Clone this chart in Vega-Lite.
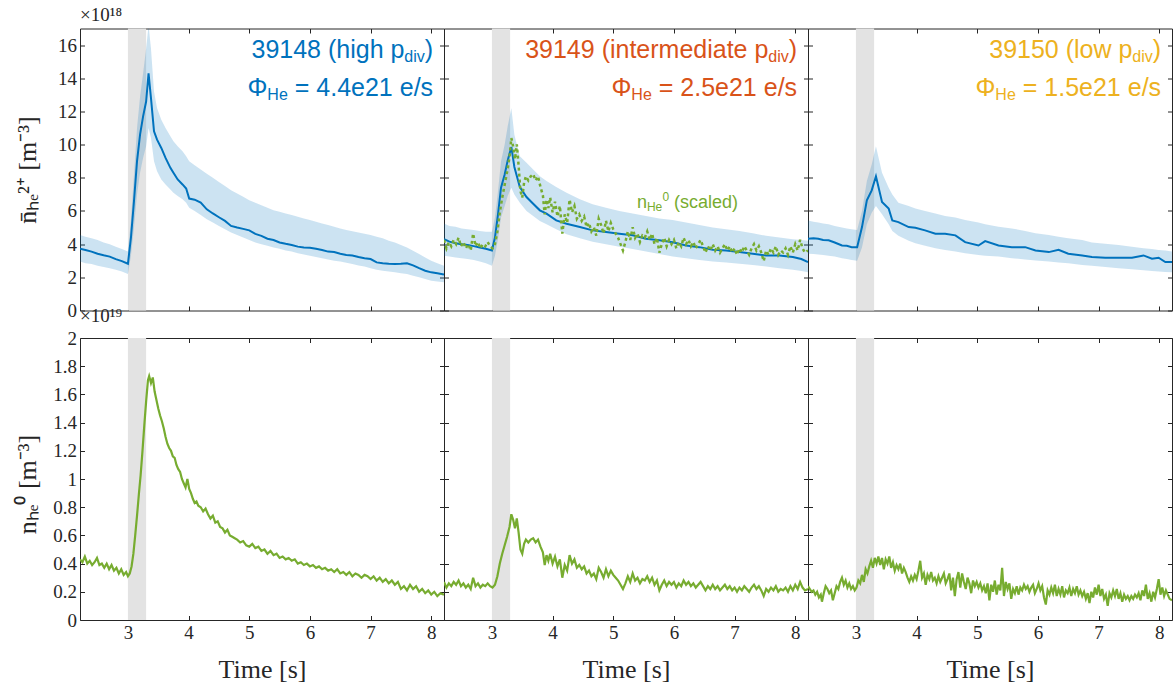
{
  "$schema": "https://vega.github.io/schema/vega-lite/v6.json",
  "background": "white",
  "padding": {"left": 14, "top": 5.5, "right": 0, "bottom": 0},
  "columns": 3,
  "spacing": {"row": 27.5, "column": 0},
  "bounds": "flush",
  "datasets": {
    "pulse": [{"start": 3.0, "end": 3.3}],
    "top": [
      {"shot": 39148, "t": 2.21, "m": 3.72, "lo": 2.95, "hi": 4.55},
      {"shot": 39148, "t": 2.30, "m": 3.65, "lo": 2.85, "hi": 4.45},
      {"shot": 39148, "t": 2.40, "m": 3.55, "lo": 2.80, "hi": 4.35},
      {"shot": 39148, "t": 2.50, "m": 3.42, "lo": 2.70, "hi": 4.25},
      {"shot": 39148, "t": 2.60, "m": 3.33, "lo": 2.62, "hi": 4.10},
      {"shot": 39148, "t": 2.70, "m": 3.25, "lo": 2.55, "hi": 4.00},
      {"shot": 39148, "t": 2.80, "m": 3.10, "lo": 2.45, "hi": 3.85},
      {"shot": 39148, "t": 2.90, "m": 2.98, "lo": 2.35, "hi": 3.70},
      {"shot": 39148, "t": 3.00, "m": 2.82, "lo": 2.20, "hi": 3.55},
      {"shot": 39148, "t": 3.05, "m": 4.40, "lo": 3.30, "hi": 5.50},
      {"shot": 39148, "t": 3.10, "m": 6.60, "lo": 5.00, "hi": 8.20},
      {"shot": 39148, "t": 3.15, "m": 9.00, "lo": 7.00, "hi": 11.00},
      {"shot": 39148, "t": 3.20, "m": 10.60, "lo": 8.30, "hi": 12.90},
      {"shot": 39148, "t": 3.25, "m": 11.70, "lo": 9.20, "hi": 14.30},
      {"shot": 39148, "t": 3.30, "m": 12.60, "lo": 9.90, "hi": 15.80},
      {"shot": 39148, "t": 3.34, "m": 14.30, "lo": 11.00, "hi": 17.20},
      {"shot": 39148, "t": 3.38, "m": 12.80, "lo": 10.40, "hi": 15.80},
      {"shot": 39148, "t": 3.43, "m": 10.80, "lo": 9.00, "hi": 13.20},
      {"shot": 39148, "t": 3.48, "m": 10.30, "lo": 8.40, "hi": 12.20},
      {"shot": 39148, "t": 3.55, "m": 9.80, "lo": 7.90, "hi": 11.50},
      {"shot": 39148, "t": 3.62, "m": 9.20, "lo": 7.60, "hi": 11.00},
      {"shot": 39148, "t": 3.70, "m": 8.60, "lo": 7.30, "hi": 10.50},
      {"shot": 39148, "t": 3.75, "m": 8.30, "lo": 7.10, "hi": 10.20},
      {"shot": 39148, "t": 3.82, "m": 7.90, "lo": 6.90, "hi": 9.90},
      {"shot": 39148, "t": 3.90, "m": 7.60, "lo": 6.70, "hi": 9.60},
      {"shot": 39148, "t": 3.96, "m": 7.35, "lo": 6.50, "hi": 9.30},
      {"shot": 39148, "t": 4.01, "m": 6.75, "lo": 6.20, "hi": 9.00},
      {"shot": 39148, "t": 4.10, "m": 6.68, "lo": 6.00, "hi": 8.75},
      {"shot": 39148, "t": 4.20, "m": 6.50, "lo": 5.75, "hi": 8.50},
      {"shot": 39148, "t": 4.30, "m": 6.10, "lo": 5.50, "hi": 8.25},
      {"shot": 39148, "t": 4.40, "m": 5.85, "lo": 5.30, "hi": 8.00},
      {"shot": 39148, "t": 4.50, "m": 5.62, "lo": 5.10, "hi": 7.75},
      {"shot": 39148, "t": 4.60, "m": 5.40, "lo": 4.90, "hi": 7.50},
      {"shot": 39148, "t": 4.70, "m": 5.10, "lo": 4.70, "hi": 7.25},
      {"shot": 39148, "t": 4.80, "m": 5.00, "lo": 4.55, "hi": 7.05},
      {"shot": 39148, "t": 4.90, "m": 4.92, "lo": 4.40, "hi": 6.85},
      {"shot": 39148, "t": 5.00, "m": 4.83, "lo": 4.25, "hi": 6.65},
      {"shot": 39148, "t": 5.10, "m": 4.62, "lo": 4.10, "hi": 6.50},
      {"shot": 39148, "t": 5.20, "m": 4.50, "lo": 4.00, "hi": 6.35},
      {"shot": 39148, "t": 5.30, "m": 4.33, "lo": 3.90, "hi": 6.20},
      {"shot": 39148, "t": 5.40, "m": 4.25, "lo": 3.80, "hi": 6.05},
      {"shot": 39148, "t": 5.50, "m": 4.10, "lo": 3.72, "hi": 5.95},
      {"shot": 39148, "t": 5.60, "m": 4.02, "lo": 3.62, "hi": 5.85},
      {"shot": 39148, "t": 5.70, "m": 3.95, "lo": 3.55, "hi": 5.75},
      {"shot": 39148, "t": 5.80, "m": 3.85, "lo": 3.45, "hi": 5.65},
      {"shot": 39148, "t": 5.90, "m": 3.80, "lo": 3.38, "hi": 5.55},
      {"shot": 39148, "t": 6.00, "m": 3.78, "lo": 3.30, "hi": 5.45},
      {"shot": 39148, "t": 6.10, "m": 3.72, "lo": 3.22, "hi": 5.35},
      {"shot": 39148, "t": 6.20, "m": 3.65, "lo": 3.15, "hi": 5.25},
      {"shot": 39148, "t": 6.30, "m": 3.55, "lo": 3.08, "hi": 5.15},
      {"shot": 39148, "t": 6.40, "m": 3.52, "lo": 3.00, "hi": 5.05},
      {"shot": 39148, "t": 6.50, "m": 3.42, "lo": 2.95, "hi": 4.95},
      {"shot": 39148, "t": 6.60, "m": 3.35, "lo": 2.88, "hi": 4.85},
      {"shot": 39148, "t": 6.70, "m": 3.32, "lo": 2.80, "hi": 4.78},
      {"shot": 39148, "t": 6.80, "m": 3.22, "lo": 2.72, "hi": 4.70},
      {"shot": 39148, "t": 6.90, "m": 3.15, "lo": 2.65, "hi": 4.62},
      {"shot": 39148, "t": 7.00, "m": 3.10, "lo": 2.55, "hi": 4.55},
      {"shot": 39148, "t": 7.10, "m": 2.90, "lo": 2.45, "hi": 4.45},
      {"shot": 39148, "t": 7.20, "m": 2.85, "lo": 2.40, "hi": 4.35},
      {"shot": 39148, "t": 7.30, "m": 2.82, "lo": 2.35, "hi": 4.20},
      {"shot": 39148, "t": 7.40, "m": 2.80, "lo": 2.30, "hi": 4.10},
      {"shot": 39148, "t": 7.50, "m": 2.82, "lo": 2.25, "hi": 3.95},
      {"shot": 39148, "t": 7.60, "m": 2.85, "lo": 2.20, "hi": 3.80},
      {"shot": 39148, "t": 7.70, "m": 2.72, "lo": 2.10, "hi": 3.60},
      {"shot": 39148, "t": 7.80, "m": 2.55, "lo": 2.00, "hi": 3.40},
      {"shot": 39148, "t": 7.90, "m": 2.40, "lo": 1.90, "hi": 3.20},
      {"shot": 39148, "t": 8.00, "m": 2.30, "lo": 1.80, "hi": 3.00},
      {"shot": 39148, "t": 8.10, "m": 2.25, "lo": 1.75, "hi": 2.85},
      {"shot": 39148, "t": 8.21, "m": 2.17, "lo": 1.70, "hi": 2.70},

      {"shot": 39149, "t": 2.21, "m": 4.30, "lo": 3.30, "hi": 5.25},
      {"shot": 39149, "t": 2.30, "m": 4.15, "lo": 3.25, "hi": 5.10},
      {"shot": 39149, "t": 2.40, "m": 4.05, "lo": 3.20, "hi": 5.05},
      {"shot": 39149, "t": 2.50, "m": 4.00, "lo": 3.15, "hi": 4.95},
      {"shot": 39149, "t": 2.60, "m": 3.95, "lo": 3.10, "hi": 4.90},
      {"shot": 39149, "t": 2.70, "m": 3.88, "lo": 3.05, "hi": 4.85},
      {"shot": 39149, "t": 2.80, "m": 3.80, "lo": 2.95, "hi": 4.80},
      {"shot": 39149, "t": 2.90, "m": 3.72, "lo": 2.85, "hi": 4.75},
      {"shot": 39149, "t": 3.00, "m": 3.62, "lo": 2.70, "hi": 4.75},
      {"shot": 39149, "t": 3.05, "m": 4.40, "lo": 3.30, "hi": 5.60},
      {"shot": 39149, "t": 3.10, "m": 5.80, "lo": 4.30, "hi": 7.20},
      {"shot": 39149, "t": 3.15, "m": 7.40, "lo": 5.60, "hi": 9.00},
      {"shot": 39149, "t": 3.21, "m": 8.20, "lo": 6.30, "hi": 10.00},
      {"shot": 39149, "t": 3.26, "m": 9.05, "lo": 6.90, "hi": 11.10},
      {"shot": 39149, "t": 3.32, "m": 9.86, "lo": 7.40, "hi": 12.20},
      {"shot": 39149, "t": 3.37, "m": 8.65, "lo": 7.00, "hi": 10.60},
      {"shot": 39149, "t": 3.46, "m": 7.44, "lo": 6.50, "hi": 9.30},
      {"shot": 39149, "t": 3.57, "m": 6.84, "lo": 6.00, "hi": 8.90},
      {"shot": 39149, "t": 3.68, "m": 6.44, "lo": 5.70, "hi": 8.50},
      {"shot": 39149, "t": 3.79, "m": 6.04, "lo": 5.40, "hi": 8.10},
      {"shot": 39149, "t": 3.90, "m": 5.84, "lo": 5.20, "hi": 7.80},
      {"shot": 39149, "t": 4.06, "m": 5.43, "lo": 4.90, "hi": 7.44},
      {"shot": 39149, "t": 4.23, "m": 5.23, "lo": 4.60, "hi": 7.10},
      {"shot": 39149, "t": 4.45, "m": 5.03, "lo": 4.35, "hi": 6.70},
      {"shot": 39149, "t": 4.66, "m": 4.83, "lo": 4.15, "hi": 6.40},
      {"shot": 39149, "t": 4.88, "m": 4.73, "lo": 4.00, "hi": 6.20},
      {"shot": 39149, "t": 5.10, "m": 4.63, "lo": 3.85, "hi": 6.00},
      {"shot": 39149, "t": 5.32, "m": 4.53, "lo": 3.70, "hi": 5.85},
      {"shot": 39149, "t": 5.54, "m": 4.33, "lo": 3.55, "hi": 5.70},
      {"shot": 39149, "t": 5.76, "m": 4.23, "lo": 3.40, "hi": 5.55},
      {"shot": 39149, "t": 5.98, "m": 4.12, "lo": 3.25, "hi": 5.45},
      {"shot": 39149, "t": 6.20, "m": 3.92, "lo": 3.15, "hi": 5.30},
      {"shot": 39149, "t": 6.42, "m": 3.82, "lo": 3.05, "hi": 5.15},
      {"shot": 39149, "t": 6.64, "m": 3.66, "lo": 2.95, "hi": 5.00},
      {"shot": 39149, "t": 6.86, "m": 3.62, "lo": 2.90, "hi": 4.90},
      {"shot": 39149, "t": 7.08, "m": 3.52, "lo": 2.82, "hi": 4.80},
      {"shot": 39149, "t": 7.30, "m": 3.42, "lo": 2.75, "hi": 4.65},
      {"shot": 39149, "t": 7.52, "m": 3.32, "lo": 2.65, "hi": 4.50},
      {"shot": 39149, "t": 7.74, "m": 3.32, "lo": 2.55, "hi": 4.40},
      {"shot": 39149, "t": 7.96, "m": 3.22, "lo": 2.45, "hi": 4.30},
      {"shot": 39149, "t": 8.10, "m": 3.10, "lo": 2.38, "hi": 4.25},
      {"shot": 39149, "t": 8.21, "m": 2.92, "lo": 2.30, "hi": 4.20},

      {"shot": 39150, "t": 2.21, "m": 4.33, "lo": 3.42, "hi": 5.43},
      {"shot": 39150, "t": 2.30, "m": 4.35, "lo": 3.40, "hi": 5.35},
      {"shot": 39150, "t": 2.38, "m": 4.33, "lo": 3.38, "hi": 5.30},
      {"shot": 39150, "t": 2.46, "m": 4.25, "lo": 3.35, "hi": 5.25},
      {"shot": 39150, "t": 2.55, "m": 4.23, "lo": 3.30, "hi": 5.20},
      {"shot": 39150, "t": 2.65, "m": 4.10, "lo": 3.25, "hi": 5.10},
      {"shot": 39150, "t": 2.77, "m": 3.92, "lo": 3.15, "hi": 5.00},
      {"shot": 39150, "t": 2.85, "m": 3.90, "lo": 3.10, "hi": 4.95},
      {"shot": 39150, "t": 2.93, "m": 3.82, "lo": 3.05, "hi": 4.90},
      {"shot": 39150, "t": 3.02, "m": 3.82, "lo": 3.00, "hi": 4.85},
      {"shot": 39150, "t": 3.10, "m": 5.03, "lo": 3.80, "hi": 6.00},
      {"shot": 39150, "t": 3.18, "m": 6.64, "lo": 5.20, "hi": 7.80},
      {"shot": 39150, "t": 3.26, "m": 7.24, "lo": 5.90, "hi": 8.80},
      {"shot": 39150, "t": 3.33, "m": 8.09, "lo": 6.30, "hi": 9.90},
      {"shot": 39150, "t": 3.43, "m": 6.54, "lo": 5.80, "hi": 8.30},
      {"shot": 39150, "t": 3.54, "m": 6.14, "lo": 5.20, "hi": 7.40},
      {"shot": 39150, "t": 3.60, "m": 5.43, "lo": 4.80, "hi": 7.00},
      {"shot": 39150, "t": 3.70, "m": 5.33, "lo": 4.50, "hi": 6.50},
      {"shot": 39150, "t": 3.87, "m": 5.03, "lo": 4.20, "hi": 6.30},
      {"shot": 39150, "t": 3.98, "m": 4.99, "lo": 4.05, "hi": 6.15},
      {"shot": 39150, "t": 4.14, "m": 4.83, "lo": 3.90, "hi": 6.00},
      {"shot": 39150, "t": 4.31, "m": 4.63, "lo": 3.75, "hi": 5.85},
      {"shot": 39150, "t": 4.47, "m": 4.63, "lo": 3.65, "hi": 5.70},
      {"shot": 39150, "t": 4.64, "m": 4.53, "lo": 3.55, "hi": 5.60},
      {"shot": 39150, "t": 4.80, "m": 4.12, "lo": 3.45, "hi": 5.45},
      {"shot": 39150, "t": 5.02, "m": 3.92, "lo": 3.35, "hi": 5.30},
      {"shot": 39150, "t": 5.13, "m": 4.18, "lo": 3.30, "hi": 5.20},
      {"shot": 39150, "t": 5.35, "m": 3.92, "lo": 3.25, "hi": 5.05},
      {"shot": 39150, "t": 5.57, "m": 3.82, "lo": 3.15, "hi": 4.95},
      {"shot": 39150, "t": 5.79, "m": 3.82, "lo": 3.08, "hi": 4.80},
      {"shot": 39150, "t": 5.96, "m": 3.62, "lo": 3.02, "hi": 4.65},
      {"shot": 39150, "t": 6.18, "m": 3.52, "lo": 2.95, "hi": 4.55},
      {"shot": 39150, "t": 6.34, "m": 3.66, "lo": 2.90, "hi": 4.45},
      {"shot": 39150, "t": 6.50, "m": 3.42, "lo": 2.85, "hi": 4.35},
      {"shot": 39150, "t": 6.73, "m": 3.32, "lo": 2.75, "hi": 4.25},
      {"shot": 39150, "t": 6.89, "m": 3.22, "lo": 2.70, "hi": 4.10},
      {"shot": 39150, "t": 7.11, "m": 3.18, "lo": 2.62, "hi": 4.02},
      {"shot": 39150, "t": 7.33, "m": 3.18, "lo": 2.55, "hi": 3.95},
      {"shot": 39150, "t": 7.55, "m": 3.18, "lo": 2.48, "hi": 3.85},
      {"shot": 39150, "t": 7.74, "m": 3.32, "lo": 2.42, "hi": 3.75},
      {"shot": 39150, "t": 7.88, "m": 3.12, "lo": 2.38, "hi": 3.70},
      {"shot": 39150, "t": 7.99, "m": 3.18, "lo": 2.35, "hi": 3.65},
      {"shot": 39150, "t": 8.10, "m": 2.92, "lo": 2.32, "hi": 3.62},
      {"shot": 39150, "t": 8.21, "m": 2.92, "lo": 2.30, "hi": 3.55}
    ],
    "bot": [
      {"shot": 39148, "t": 2.21, "n": 0.43}, {"shot": 39148, "t": 2.25, "n": 0.41}, {"shot": 39148, "t": 2.29, "n": 0.45}, {"shot": 39148, "t": 2.33, "n": 0.40},
      {"shot": 39148, "t": 2.37, "n": 0.42}, {"shot": 39148, "t": 2.41, "n": 0.39}, {"shot": 39148, "t": 2.45, "n": 0.41}, {"shot": 39148, "t": 2.49, "n": 0.44},
      {"shot": 39148, "t": 2.53, "n": 0.39}, {"shot": 39148, "t": 2.57, "n": 0.40}, {"shot": 39148, "t": 2.61, "n": 0.37}, {"shot": 39148, "t": 2.65, "n": 0.40},
      {"shot": 39148, "t": 2.69, "n": 0.36}, {"shot": 39148, "t": 2.73, "n": 0.39}, {"shot": 39148, "t": 2.77, "n": 0.35}, {"shot": 39148, "t": 2.81, "n": 0.37},
      {"shot": 39148, "t": 2.85, "n": 0.33}, {"shot": 39148, "t": 2.89, "n": 0.36}, {"shot": 39148, "t": 2.93, "n": 0.32}, {"shot": 39148, "t": 2.97, "n": 0.34},
      {"shot": 39148, "t": 3.00, "n": 0.31}, {"shot": 39148, "t": 3.03, "n": 0.33}, {"shot": 39148, "t": 3.06, "n": 0.38}, {"shot": 39148, "t": 3.09, "n": 0.47},
      {"shot": 39148, "t": 3.12, "n": 0.60}, {"shot": 39148, "t": 3.15, "n": 0.74}, {"shot": 39148, "t": 3.18, "n": 0.89}, {"shot": 39148, "t": 3.21, "n": 1.03},
      {"shot": 39148, "t": 3.24, "n": 1.20}, {"shot": 39148, "t": 3.27, "n": 1.38}, {"shot": 39148, "t": 3.30, "n": 1.55}, {"shot": 39148, "t": 3.33, "n": 1.70},
      {"shot": 39148, "t": 3.35, "n": 1.73}, {"shot": 39148, "t": 3.38, "n": 1.68}, {"shot": 39148, "t": 3.41, "n": 1.72}, {"shot": 39148, "t": 3.44, "n": 1.62},
      {"shot": 39148, "t": 3.47, "n": 1.56}, {"shot": 39148, "t": 3.50, "n": 1.50}, {"shot": 39148, "t": 3.53, "n": 1.45}, {"shot": 39148, "t": 3.56, "n": 1.41},
      {"shot": 39148, "t": 3.59, "n": 1.36}, {"shot": 39148, "t": 3.62, "n": 1.30}, {"shot": 39148, "t": 3.65, "n": 1.25}, {"shot": 39148, "t": 3.68, "n": 1.22},
      {"shot": 39148, "t": 3.71, "n": 1.20}, {"shot": 39148, "t": 3.74, "n": 1.16}, {"shot": 39148, "t": 3.77, "n": 1.15}, {"shot": 39148, "t": 3.80, "n": 1.10},
      {"shot": 39148, "t": 3.83, "n": 1.07}, {"shot": 39148, "t": 3.86, "n": 1.05}, {"shot": 39148, "t": 3.89, "n": 1.00}, {"shot": 39148, "t": 3.92, "n": 0.97},
      {"shot": 39148, "t": 3.95, "n": 0.94}, {"shot": 39148, "t": 3.98, "n": 1.00}, {"shot": 39148, "t": 4.01, "n": 0.93}, {"shot": 39148, "t": 4.04, "n": 0.90},
      {"shot": 39148, "t": 4.07, "n": 0.86}, {"shot": 39148, "t": 4.10, "n": 0.83}, {"shot": 39148, "t": 4.13, "n": 0.84}, {"shot": 39148, "t": 4.16, "n": 0.81},
      {"shot": 39148, "t": 4.20, "n": 0.80}, {"shot": 39148, "t": 4.24, "n": 0.77}, {"shot": 39148, "t": 4.28, "n": 0.79}, {"shot": 39148, "t": 4.32, "n": 0.75},
      {"shot": 39148, "t": 4.36, "n": 0.72}, {"shot": 39148, "t": 4.40, "n": 0.74}, {"shot": 39148, "t": 4.44, "n": 0.69}, {"shot": 39148, "t": 4.48, "n": 0.70},
      {"shot": 39148, "t": 4.52, "n": 0.66}, {"shot": 39148, "t": 4.56, "n": 0.65}, {"shot": 39148, "t": 4.60, "n": 0.62}, {"shot": 39148, "t": 4.64, "n": 0.64},
      {"shot": 39148, "t": 4.68, "n": 0.60}, {"shot": 39148, "t": 4.72, "n": 0.59}, {"shot": 39148, "t": 4.76, "n": 0.58}, {"shot": 39148, "t": 4.80, "n": 0.57},
      {"shot": 39148, "t": 4.85, "n": 0.55}, {"shot": 39148, "t": 4.90, "n": 0.56}, {"shot": 39148, "t": 4.95, "n": 0.53}, {"shot": 39148, "t": 5.00, "n": 0.52},
      {"shot": 39148, "t": 5.05, "n": 0.54}, {"shot": 39148, "t": 5.10, "n": 0.51}, {"shot": 39148, "t": 5.15, "n": 0.52}, {"shot": 39148, "t": 5.20, "n": 0.49},
      {"shot": 39148, "t": 5.25, "n": 0.50}, {"shot": 39148, "t": 5.30, "n": 0.47}, {"shot": 39148, "t": 5.35, "n": 0.49}, {"shot": 39148, "t": 5.40, "n": 0.46},
      {"shot": 39148, "t": 5.45, "n": 0.47}, {"shot": 39148, "t": 5.50, "n": 0.44}, {"shot": 39148, "t": 5.55, "n": 0.45}, {"shot": 39148, "t": 5.60, "n": 0.43},
      {"shot": 39148, "t": 5.65, "n": 0.44}, {"shot": 39148, "t": 5.70, "n": 0.42}, {"shot": 39148, "t": 5.75, "n": 0.43}, {"shot": 39148, "t": 5.80, "n": 0.40},
      {"shot": 39148, "t": 5.85, "n": 0.41}, {"shot": 39148, "t": 5.90, "n": 0.39}, {"shot": 39148, "t": 5.95, "n": 0.40}, {"shot": 39148, "t": 6.00, "n": 0.38},
      {"shot": 39148, "t": 6.05, "n": 0.39}, {"shot": 39148, "t": 6.10, "n": 0.37}, {"shot": 39148, "t": 6.15, "n": 0.38}, {"shot": 39148, "t": 6.20, "n": 0.36},
      {"shot": 39148, "t": 6.25, "n": 0.37}, {"shot": 39148, "t": 6.30, "n": 0.35}, {"shot": 39148, "t": 6.35, "n": 0.36}, {"shot": 39148, "t": 6.40, "n": 0.34},
      {"shot": 39148, "t": 6.45, "n": 0.36}, {"shot": 39148, "t": 6.50, "n": 0.33}, {"shot": 39148, "t": 6.55, "n": 0.34}, {"shot": 39148, "t": 6.60, "n": 0.32},
      {"shot": 39148, "t": 6.65, "n": 0.34}, {"shot": 39148, "t": 6.70, "n": 0.31}, {"shot": 39148, "t": 6.75, "n": 0.33}, {"shot": 39148, "t": 6.80, "n": 0.32},
      {"shot": 39148, "t": 6.85, "n": 0.30}, {"shot": 39148, "t": 6.90, "n": 0.32}, {"shot": 39148, "t": 6.95, "n": 0.31}, {"shot": 39148, "t": 7.00, "n": 0.29},
      {"shot": 39148, "t": 7.05, "n": 0.31}, {"shot": 39148, "t": 7.10, "n": 0.28}, {"shot": 39148, "t": 7.15, "n": 0.30}, {"shot": 39148, "t": 7.20, "n": 0.27},
      {"shot": 39148, "t": 7.25, "n": 0.29}, {"shot": 39148, "t": 7.30, "n": 0.26}, {"shot": 39148, "t": 7.35, "n": 0.28}, {"shot": 39148, "t": 7.40, "n": 0.25},
      {"shot": 39148, "t": 7.45, "n": 0.27}, {"shot": 39148, "t": 7.50, "n": 0.22}, {"shot": 39148, "t": 7.55, "n": 0.24}, {"shot": 39148, "t": 7.60, "n": 0.21},
      {"shot": 39148, "t": 7.65, "n": 0.25}, {"shot": 39148, "t": 7.70, "n": 0.22}, {"shot": 39148, "t": 7.75, "n": 0.24}, {"shot": 39148, "t": 7.80, "n": 0.20},
      {"shot": 39148, "t": 7.85, "n": 0.22}, {"shot": 39148, "t": 7.90, "n": 0.19}, {"shot": 39148, "t": 7.95, "n": 0.21}, {"shot": 39148, "t": 8.00, "n": 0.18},
      {"shot": 39148, "t": 8.05, "n": 0.20}, {"shot": 39148, "t": 8.10, "n": 0.17}, {"shot": 39148, "t": 8.15, "n": 0.19}, {"shot": 39148, "t": 8.21, "n": 0.18},

      {"shot": 39149, "t": 2.21, "n": 0.27}, {"shot": 39149, "t": 2.25, "n": 0.23}, {"shot": 39149, "t": 2.29, "n": 0.26}, {"shot": 39149, "t": 2.33, "n": 0.24},
      {"shot": 39149, "t": 2.37, "n": 0.27}, {"shot": 39149, "t": 2.41, "n": 0.25}, {"shot": 39149, "t": 2.45, "n": 0.28}, {"shot": 39149, "t": 2.49, "n": 0.24},
      {"shot": 39149, "t": 2.53, "n": 0.26}, {"shot": 39149, "t": 2.57, "n": 0.23}, {"shot": 39149, "t": 2.61, "n": 0.25}, {"shot": 39149, "t": 2.65, "n": 0.22},
      {"shot": 39149, "t": 2.69, "n": 0.30}, {"shot": 39149, "t": 2.73, "n": 0.24}, {"shot": 39149, "t": 2.77, "n": 0.26}, {"shot": 39149, "t": 2.81, "n": 0.23},
      {"shot": 39149, "t": 2.85, "n": 0.25}, {"shot": 39149, "t": 2.89, "n": 0.24}, {"shot": 39149, "t": 2.93, "n": 0.26}, {"shot": 39149, "t": 2.97, "n": 0.24},
      {"shot": 39149, "t": 3.01, "n": 0.23}, {"shot": 39149, "t": 3.05, "n": 0.25}, {"shot": 39149, "t": 3.09, "n": 0.31}, {"shot": 39149, "t": 3.13, "n": 0.40},
      {"shot": 39149, "t": 3.17, "n": 0.47}, {"shot": 39149, "t": 3.21, "n": 0.53}, {"shot": 39149, "t": 3.25, "n": 0.59}, {"shot": 39149, "t": 3.29, "n": 0.66},
      {"shot": 39149, "t": 3.32, "n": 0.75}, {"shot": 39149, "t": 3.35, "n": 0.71}, {"shot": 39149, "t": 3.38, "n": 0.65}, {"shot": 39149, "t": 3.41, "n": 0.72},
      {"shot": 39149, "t": 3.44, "n": 0.62}, {"shot": 39149, "t": 3.47, "n": 0.50}, {"shot": 39149, "t": 3.50, "n": 0.47}, {"shot": 39149, "t": 3.53, "n": 0.54},
      {"shot": 39149, "t": 3.56, "n": 0.57}, {"shot": 39149, "t": 3.60, "n": 0.55}, {"shot": 39149, "t": 3.64, "n": 0.57}, {"shot": 39149, "t": 3.68, "n": 0.58},
      {"shot": 39149, "t": 3.72, "n": 0.55}, {"shot": 39149, "t": 3.76, "n": 0.57}, {"shot": 39149, "t": 3.80, "n": 0.52}, {"shot": 39149, "t": 3.84, "n": 0.48},
      {"shot": 39149, "t": 3.87, "n": 0.39}, {"shot": 39149, "t": 3.90, "n": 0.46}, {"shot": 39149, "t": 3.93, "n": 0.42}, {"shot": 39149, "t": 3.96, "n": 0.47},
      {"shot": 39149, "t": 4.00, "n": 0.40}, {"shot": 39149, "t": 4.04, "n": 0.45}, {"shot": 39149, "t": 4.08, "n": 0.38}, {"shot": 39149, "t": 4.12, "n": 0.43},
      {"shot": 39149, "t": 4.16, "n": 0.30}, {"shot": 39149, "t": 4.20, "n": 0.39}, {"shot": 39149, "t": 4.24, "n": 0.35}, {"shot": 39149, "t": 4.28, "n": 0.46},
      {"shot": 39149, "t": 4.32, "n": 0.40}, {"shot": 39149, "t": 4.36, "n": 0.43}, {"shot": 39149, "t": 4.40, "n": 0.37}, {"shot": 39149, "t": 4.44, "n": 0.39},
      {"shot": 39149, "t": 4.48, "n": 0.36}, {"shot": 39149, "t": 4.52, "n": 0.38}, {"shot": 39149, "t": 4.56, "n": 0.33}, {"shot": 39149, "t": 4.60, "n": 0.35},
      {"shot": 39149, "t": 4.64, "n": 0.31}, {"shot": 39149, "t": 4.68, "n": 0.33}, {"shot": 39149, "t": 4.72, "n": 0.29}, {"shot": 39149, "t": 4.76, "n": 0.37},
      {"shot": 39149, "t": 4.80, "n": 0.34}, {"shot": 39149, "t": 4.84, "n": 0.30}, {"shot": 39149, "t": 4.88, "n": 0.36}, {"shot": 39149, "t": 4.92, "n": 0.31},
      {"shot": 39149, "t": 4.96, "n": 0.35}, {"shot": 39149, "t": 5.00, "n": 0.32}, {"shot": 39149, "t": 5.04, "n": 0.30}, {"shot": 39149, "t": 5.08, "n": 0.28},
      {"shot": 39149, "t": 5.12, "n": 0.25}, {"shot": 39149, "t": 5.16, "n": 0.22}, {"shot": 39149, "t": 5.20, "n": 0.26}, {"shot": 39149, "t": 5.24, "n": 0.31},
      {"shot": 39149, "t": 5.28, "n": 0.27}, {"shot": 39149, "t": 5.32, "n": 0.33}, {"shot": 39149, "t": 5.36, "n": 0.28}, {"shot": 39149, "t": 5.40, "n": 0.30},
      {"shot": 39149, "t": 5.44, "n": 0.26}, {"shot": 39149, "t": 5.48, "n": 0.29}, {"shot": 39149, "t": 5.52, "n": 0.28}, {"shot": 39149, "t": 5.56, "n": 0.31},
      {"shot": 39149, "t": 5.60, "n": 0.27}, {"shot": 39149, "t": 5.64, "n": 0.30}, {"shot": 39149, "t": 5.68, "n": 0.25}, {"shot": 39149, "t": 5.72, "n": 0.28},
      {"shot": 39149, "t": 5.76, "n": 0.21}, {"shot": 39149, "t": 5.80, "n": 0.25}, {"shot": 39149, "t": 5.84, "n": 0.28}, {"shot": 39149, "t": 5.88, "n": 0.24},
      {"shot": 39149, "t": 5.92, "n": 0.27}, {"shot": 39149, "t": 5.96, "n": 0.25}, {"shot": 39149, "t": 6.00, "n": 0.27}, {"shot": 39149, "t": 6.04, "n": 0.23},
      {"shot": 39149, "t": 6.08, "n": 0.26}, {"shot": 39149, "t": 6.12, "n": 0.24}, {"shot": 39149, "t": 6.16, "n": 0.28}, {"shot": 39149, "t": 6.20, "n": 0.25},
      {"shot": 39149, "t": 6.24, "n": 0.27}, {"shot": 39149, "t": 6.28, "n": 0.24}, {"shot": 39149, "t": 6.32, "n": 0.26}, {"shot": 39149, "t": 6.36, "n": 0.23},
      {"shot": 39149, "t": 6.40, "n": 0.25}, {"shot": 39149, "t": 6.44, "n": 0.27}, {"shot": 39149, "t": 6.48, "n": 0.24}, {"shot": 39149, "t": 6.52, "n": 0.21},
      {"shot": 39149, "t": 6.56, "n": 0.24}, {"shot": 39149, "t": 6.60, "n": 0.22}, {"shot": 39149, "t": 6.64, "n": 0.25}, {"shot": 39149, "t": 6.68, "n": 0.22},
      {"shot": 39149, "t": 6.72, "n": 0.24}, {"shot": 39149, "t": 6.76, "n": 0.21}, {"shot": 39149, "t": 6.80, "n": 0.23}, {"shot": 39149, "t": 6.84, "n": 0.25},
      {"shot": 39149, "t": 6.88, "n": 0.22}, {"shot": 39149, "t": 6.92, "n": 0.24}, {"shot": 39149, "t": 6.96, "n": 0.21}, {"shot": 39149, "t": 7.00, "n": 0.23},
      {"shot": 39149, "t": 7.04, "n": 0.20}, {"shot": 39149, "t": 7.08, "n": 0.23}, {"shot": 39149, "t": 7.12, "n": 0.21}, {"shot": 39149, "t": 7.16, "n": 0.24},
      {"shot": 39149, "t": 7.20, "n": 0.22}, {"shot": 39149, "t": 7.24, "n": 0.20}, {"shot": 39149, "t": 7.28, "n": 0.23}, {"shot": 39149, "t": 7.32, "n": 0.25},
      {"shot": 39149, "t": 7.36, "n": 0.22}, {"shot": 39149, "t": 7.40, "n": 0.24}, {"shot": 39149, "t": 7.44, "n": 0.21}, {"shot": 39149, "t": 7.48, "n": 0.17},
      {"shot": 39149, "t": 7.52, "n": 0.22}, {"shot": 39149, "t": 7.56, "n": 0.20}, {"shot": 39149, "t": 7.60, "n": 0.23}, {"shot": 39149, "t": 7.64, "n": 0.21},
      {"shot": 39149, "t": 7.68, "n": 0.24}, {"shot": 39149, "t": 7.72, "n": 0.20}, {"shot": 39149, "t": 7.76, "n": 0.22}, {"shot": 39149, "t": 7.80, "n": 0.21},
      {"shot": 39149, "t": 7.84, "n": 0.23}, {"shot": 39149, "t": 7.88, "n": 0.20}, {"shot": 39149, "t": 7.92, "n": 0.24}, {"shot": 39149, "t": 7.96, "n": 0.21},
      {"shot": 39149, "t": 8.00, "n": 0.25}, {"shot": 39149, "t": 8.04, "n": 0.22}, {"shot": 39149, "t": 8.08, "n": 0.27}, {"shot": 39149, "t": 8.12, "n": 0.23},
      {"shot": 39149, "t": 8.16, "n": 0.21}, {"shot": 39149, "t": 8.21, "n": 0.22},

      {"shot": 39150, "t": 2.21, "n": 0.24}, {"shot": 39150, "t": 2.24, "n": 0.22}, {"shot": 39150, "t": 2.27, "n": 0.20}, {"shot": 39150, "t": 2.30, "n": 0.21},
      {"shot": 39150, "t": 2.33, "n": 0.18}, {"shot": 39150, "t": 2.36, "n": 0.20}, {"shot": 39150, "t": 2.39, "n": 0.16}, {"shot": 39150, "t": 2.42, "n": 0.18},
      {"shot": 39150, "t": 2.44, "n": 0.13}, {"shot": 39150, "t": 2.47, "n": 0.19}, {"shot": 39150, "t": 2.50, "n": 0.24}, {"shot": 39150, "t": 2.53, "n": 0.22},
      {"shot": 39150, "t": 2.56, "n": 0.19}, {"shot": 39150, "t": 2.59, "n": 0.21}, {"shot": 39150, "t": 2.62, "n": 0.14}, {"shot": 39150, "t": 2.65, "n": 0.19},
      {"shot": 39150, "t": 2.68, "n": 0.24}, {"shot": 39150, "t": 2.71, "n": 0.22}, {"shot": 39150, "t": 2.74, "n": 0.27}, {"shot": 39150, "t": 2.77, "n": 0.30},
      {"shot": 39150, "t": 2.80, "n": 0.25}, {"shot": 39150, "t": 2.83, "n": 0.28}, {"shot": 39150, "t": 2.86, "n": 0.23}, {"shot": 39150, "t": 2.89, "n": 0.26},
      {"shot": 39150, "t": 2.92, "n": 0.22}, {"shot": 39150, "t": 2.95, "n": 0.24}, {"shot": 39150, "t": 2.98, "n": 0.21}, {"shot": 39150, "t": 3.01, "n": 0.23},
      {"shot": 39150, "t": 3.04, "n": 0.28}, {"shot": 39150, "t": 3.07, "n": 0.26}, {"shot": 39150, "t": 3.10, "n": 0.32}, {"shot": 39150, "t": 3.13, "n": 0.27},
      {"shot": 39150, "t": 3.16, "n": 0.36}, {"shot": 39150, "t": 3.19, "n": 0.33}, {"shot": 39150, "t": 3.22, "n": 0.38}, {"shot": 39150, "t": 3.25, "n": 0.42},
      {"shot": 39150, "t": 3.28, "n": 0.37}, {"shot": 39150, "t": 3.31, "n": 0.44}, {"shot": 39150, "t": 3.34, "n": 0.40}, {"shot": 39150, "t": 3.37, "n": 0.45},
      {"shot": 39150, "t": 3.40, "n": 0.39}, {"shot": 39150, "t": 3.43, "n": 0.44}, {"shot": 39150, "t": 3.46, "n": 0.36}, {"shot": 39150, "t": 3.49, "n": 0.43},
      {"shot": 39150, "t": 3.52, "n": 0.40}, {"shot": 39150, "t": 3.55, "n": 0.45}, {"shot": 39150, "t": 3.58, "n": 0.37}, {"shot": 39150, "t": 3.61, "n": 0.41},
      {"shot": 39150, "t": 3.64, "n": 0.35}, {"shot": 39150, "t": 3.67, "n": 0.39}, {"shot": 39150, "t": 3.70, "n": 0.36}, {"shot": 39150, "t": 3.73, "n": 0.40},
      {"shot": 39150, "t": 3.76, "n": 0.33}, {"shot": 39150, "t": 3.79, "n": 0.37}, {"shot": 39150, "t": 3.82, "n": 0.34}, {"shot": 39150, "t": 3.85, "n": 0.30},
      {"shot": 39150, "t": 3.88, "n": 0.27}, {"shot": 39150, "t": 3.91, "n": 0.31}, {"shot": 39150, "t": 3.94, "n": 0.28}, {"shot": 39150, "t": 3.97, "n": 0.32},
      {"shot": 39150, "t": 4.00, "n": 0.29}, {"shot": 39150, "t": 4.03, "n": 0.35}, {"shot": 39150, "t": 4.06, "n": 0.42}, {"shot": 39150, "t": 4.09, "n": 0.30},
      {"shot": 39150, "t": 4.12, "n": 0.33}, {"shot": 39150, "t": 4.15, "n": 0.25}, {"shot": 39150, "t": 4.18, "n": 0.32}, {"shot": 39150, "t": 4.21, "n": 0.29},
      {"shot": 39150, "t": 4.24, "n": 0.34}, {"shot": 39150, "t": 4.27, "n": 0.28}, {"shot": 39150, "t": 4.30, "n": 0.30}, {"shot": 39150, "t": 4.33, "n": 0.26},
      {"shot": 39150, "t": 4.36, "n": 0.31}, {"shot": 39150, "t": 4.39, "n": 0.27}, {"shot": 39150, "t": 4.42, "n": 0.30}, {"shot": 39150, "t": 4.45, "n": 0.33},
      {"shot": 39150, "t": 4.48, "n": 0.26}, {"shot": 39150, "t": 4.51, "n": 0.29}, {"shot": 39150, "t": 4.54, "n": 0.33}, {"shot": 39150, "t": 4.57, "n": 0.21},
      {"shot": 39150, "t": 4.60, "n": 0.30}, {"shot": 39150, "t": 4.63, "n": 0.17}, {"shot": 39150, "t": 4.66, "n": 0.29}, {"shot": 39150, "t": 4.69, "n": 0.34},
      {"shot": 39150, "t": 4.72, "n": 0.23}, {"shot": 39150, "t": 4.75, "n": 0.33}, {"shot": 39150, "t": 4.78, "n": 0.27}, {"shot": 39150, "t": 4.81, "n": 0.22},
      {"shot": 39150, "t": 4.84, "n": 0.30}, {"shot": 39150, "t": 4.87, "n": 0.26}, {"shot": 39150, "t": 4.90, "n": 0.19}, {"shot": 39150, "t": 4.93, "n": 0.28},
      {"shot": 39150, "t": 4.96, "n": 0.24}, {"shot": 39150, "t": 4.99, "n": 0.27}, {"shot": 39150, "t": 5.02, "n": 0.23}, {"shot": 39150, "t": 5.05, "n": 0.26},
      {"shot": 39150, "t": 5.08, "n": 0.21}, {"shot": 39150, "t": 5.11, "n": 0.24}, {"shot": 39150, "t": 5.14, "n": 0.19}, {"shot": 39150, "t": 5.17, "n": 0.26},
      {"shot": 39150, "t": 5.20, "n": 0.14}, {"shot": 39150, "t": 5.23, "n": 0.25}, {"shot": 39150, "t": 5.26, "n": 0.20}, {"shot": 39150, "t": 5.29, "n": 0.28},
      {"shot": 39150, "t": 5.32, "n": 0.18}, {"shot": 39150, "t": 5.35, "n": 0.25}, {"shot": 39150, "t": 5.38, "n": 0.21}, {"shot": 39150, "t": 5.41, "n": 0.37},
      {"shot": 39150, "t": 5.44, "n": 0.17}, {"shot": 39150, "t": 5.47, "n": 0.27}, {"shot": 39150, "t": 5.50, "n": 0.22}, {"shot": 39150, "t": 5.53, "n": 0.26},
      {"shot": 39150, "t": 5.56, "n": 0.15}, {"shot": 39150, "t": 5.59, "n": 0.22}, {"shot": 39150, "t": 5.62, "n": 0.19}, {"shot": 39150, "t": 5.65, "n": 0.24},
      {"shot": 39150, "t": 5.68, "n": 0.18}, {"shot": 39150, "t": 5.71, "n": 0.23}, {"shot": 39150, "t": 5.74, "n": 0.21}, {"shot": 39150, "t": 5.77, "n": 0.25},
      {"shot": 39150, "t": 5.80, "n": 0.22}, {"shot": 39150, "t": 5.83, "n": 0.24}, {"shot": 39150, "t": 5.86, "n": 0.20}, {"shot": 39150, "t": 5.89, "n": 0.23},
      {"shot": 39150, "t": 5.92, "n": 0.25}, {"shot": 39150, "t": 5.95, "n": 0.19}, {"shot": 39150, "t": 5.98, "n": 0.22}, {"shot": 39150, "t": 6.01, "n": 0.26},
      {"shot": 39150, "t": 6.04, "n": 0.21}, {"shot": 39150, "t": 6.07, "n": 0.24}, {"shot": 39150, "t": 6.10, "n": 0.16}, {"shot": 39150, "t": 6.13, "n": 0.11},
      {"shot": 39150, "t": 6.16, "n": 0.21}, {"shot": 39150, "t": 6.19, "n": 0.18}, {"shot": 39150, "t": 6.22, "n": 0.23}, {"shot": 39150, "t": 6.25, "n": 0.19},
      {"shot": 39150, "t": 6.28, "n": 0.25}, {"shot": 39150, "t": 6.31, "n": 0.17}, {"shot": 39150, "t": 6.34, "n": 0.22}, {"shot": 39150, "t": 6.37, "n": 0.18},
      {"shot": 39150, "t": 6.40, "n": 0.24}, {"shot": 39150, "t": 6.43, "n": 0.16}, {"shot": 39150, "t": 6.46, "n": 0.21}, {"shot": 39150, "t": 6.49, "n": 0.19},
      {"shot": 39150, "t": 6.52, "n": 0.23}, {"shot": 39150, "t": 6.55, "n": 0.17}, {"shot": 39150, "t": 6.58, "n": 0.22}, {"shot": 39150, "t": 6.61, "n": 0.19},
      {"shot": 39150, "t": 6.64, "n": 0.24}, {"shot": 39150, "t": 6.67, "n": 0.18}, {"shot": 39150, "t": 6.70, "n": 0.21}, {"shot": 39150, "t": 6.73, "n": 0.17},
      {"shot": 39150, "t": 6.76, "n": 0.20}, {"shot": 39150, "t": 6.79, "n": 0.15}, {"shot": 39150, "t": 6.82, "n": 0.19}, {"shot": 39150, "t": 6.85, "n": 0.12},
      {"shot": 39150, "t": 6.88, "n": 0.20}, {"shot": 39150, "t": 6.91, "n": 0.16}, {"shot": 39150, "t": 6.94, "n": 0.23}, {"shot": 39150, "t": 6.97, "n": 0.18},
      {"shot": 39150, "t": 7.00, "n": 0.25}, {"shot": 39150, "t": 7.03, "n": 0.17}, {"shot": 39150, "t": 7.06, "n": 0.22}, {"shot": 39150, "t": 7.09, "n": 0.15},
      {"shot": 39150, "t": 7.12, "n": 0.18}, {"shot": 39150, "t": 7.15, "n": 0.10}, {"shot": 39150, "t": 7.18, "n": 0.19}, {"shot": 39150, "t": 7.21, "n": 0.16},
      {"shot": 39150, "t": 7.24, "n": 0.21}, {"shot": 39150, "t": 7.27, "n": 0.17}, {"shot": 39150, "t": 7.30, "n": 0.22}, {"shot": 39150, "t": 7.33, "n": 0.15},
      {"shot": 39150, "t": 7.36, "n": 0.19}, {"shot": 39150, "t": 7.39, "n": 0.13}, {"shot": 39150, "t": 7.42, "n": 0.18}, {"shot": 39150, "t": 7.45, "n": 0.15},
      {"shot": 39150, "t": 7.48, "n": 0.17}, {"shot": 39150, "t": 7.51, "n": 0.14}, {"shot": 39150, "t": 7.54, "n": 0.17}, {"shot": 39150, "t": 7.57, "n": 0.15},
      {"shot": 39150, "t": 7.60, "n": 0.18}, {"shot": 39150, "t": 7.63, "n": 0.16}, {"shot": 39150, "t": 7.66, "n": 0.19}, {"shot": 39150, "t": 7.69, "n": 0.14},
      {"shot": 39150, "t": 7.72, "n": 0.21}, {"shot": 39150, "t": 7.75, "n": 0.17}, {"shot": 39150, "t": 7.78, "n": 0.25}, {"shot": 39150, "t": 7.81, "n": 0.15},
      {"shot": 39150, "t": 7.84, "n": 0.19}, {"shot": 39150, "t": 7.87, "n": 0.13}, {"shot": 39150, "t": 7.90, "n": 0.20}, {"shot": 39150, "t": 7.93, "n": 0.16},
      {"shot": 39150, "t": 7.96, "n": 0.22}, {"shot": 39150, "t": 7.99, "n": 0.29}, {"shot": 39150, "t": 8.02, "n": 0.18}, {"shot": 39150, "t": 8.05, "n": 0.23},
      {"shot": 39150, "t": 8.08, "n": 0.17}, {"shot": 39150, "t": 8.11, "n": 0.21}, {"shot": 39150, "t": 8.14, "n": 0.18}, {"shot": 39150, "t": 8.17, "n": 0.15},
      {"shot": 39150, "t": 8.21, "n": 0.14}
    ]
  },
  "concat": [
    {
      "width": 364, "height": 282,
      "title": {"text": "×10¹⁸"},
      "layer": [
        {"data": {"name": "pulse"}, "mark": {"type": "rect", "color": "#e3e3e3"},
         "encoding": {
           "x": {"field": "start", "type": "quantitative", "scale": {"domain": [2.21, 8.21], "nice": false, "zero": false}, "axis": {"orient": "top", "values": [3, 4, 5, 6, 7, 8], "labels": false, "title": null}},
           "x2": {"field": "end"},
           "y": {"datum": 0, "type": "quantitative", "scale": {"domain": [0, 17], "nice": false, "zero": false}, "axis": {"orient": "right", "values": [0, 2, 4, 6, 8, 10, 12, 14, 16], "labels": false, "title": null}},
           "y2": {"datum": 17}}},
        {"data": {"name": "top"}, "transform": [{"filter": "datum.shot == 39148"}],
         "mark": {"type": "area", "color": "#0072BD", "opacity": 0.2, "clip": true},
         "encoding": {
           "x": {"field": "t", "type": "quantitative", "scale": {"domain": [2.21, 8.21], "nice": false, "zero": false}, "axis": {"orient": "bottom", "values": [3, 4, 5, 6, 7, 8], "labels": false, "title": null}},
           "y": {"field": "lo", "type": "quantitative", "scale": {"domain": [0, 17], "nice": false, "zero": false},
                 "axis": {"orient": "left", "values": [0, 2, 4, 6, 8, 10, 12, 14, 16], "format": "d", "title": "n̄ₕₑ²⁺ [m⁻³]", "titleAngle": 270, "titleAlign": "center", "titleBaseline": "alphabetic", "titleX": -45, "titleY": 141}},
           "y2": {"field": "hi"}}},
        {"data": {"name": "top"}, "transform": [{"filter": "datum.shot == 39148"}],
         "mark": {"type": "line", "color": "#0072BD", "strokeWidth": 2, "clip": true},
         "encoding": {
           "x": {"field": "t", "type": "quantitative", "scale": {"domain": [2.21, 8.21], "nice": false, "zero": false}, "axis": null},
           "y": {"field": "m", "type": "quantitative", "scale": {"domain": [0, 17], "nice": false, "zero": false}, "axis": null}}},
        {"data": {"values": [{"label": "39148 (high p"}]}, "mark": {"type": "text", "align": "right", "baseline": "alphabetic", "dx": -28.7, "fontSize": 25, "color": "#0072BD"},
         "encoding": {"x": {"datum": 8.03, "type": "quantitative", "axis": null}, "y": {"datum": 15.25, "type": "quantitative", "axis": null}, "text": {"field": "label"}}},
        {"data": {"values": [{"label": "div"}]}, "mark": {"type": "text", "align": "right", "baseline": "alphabetic", "dx": -8.3, "dy": 4, "fontSize": 16, "color": "#0072BD"},
         "encoding": {"x": {"datum": 8.03, "type": "quantitative", "axis": null}, "y": {"datum": 15.25, "type": "quantitative", "axis": null}, "text": {"field": "label"}}},
        {"data": {"values": [{"label": ")"}]}, "mark": {"type": "text", "align": "right", "baseline": "alphabetic", "fontSize": 25, "color": "#0072BD"},
         "encoding": {"x": {"datum": 8.03, "type": "quantitative", "axis": null}, "y": {"datum": 15.25, "type": "quantitative", "axis": null}, "text": {"field": "label"}}},
        {"data": {"values": [{"label": "Φ"}]}, "mark": {"type": "text", "align": "right", "baseline": "alphabetic", "dx": -165.7, "fontSize": 25, "color": "#0072BD"},
         "encoding": {"x": {"datum": 8.03, "type": "quantitative", "axis": null}, "y": {"datum": 12.92, "type": "quantitative", "axis": null}, "text": {"field": "label"}}},
        {"data": {"values": [{"label": "He"}]}, "mark": {"type": "text", "align": "right", "baseline": "alphabetic", "dx": -145.3, "dy": 4, "fontSize": 16, "color": "#0072BD"},
         "encoding": {"x": {"datum": 8.03, "type": "quantitative", "axis": null}, "y": {"datum": 12.92, "type": "quantitative", "axis": null}, "text": {"field": "label"}}},
        {"data": {"values": [{"label": "= 4.4e21 e/s"}]}, "mark": {"type": "text", "align": "right", "baseline": "alphabetic", "fontSize": 25, "color": "#0072BD"},
         "encoding": {"x": {"datum": 8.03, "type": "quantitative", "axis": null}, "y": {"datum": 12.92, "type": "quantitative", "axis": null}, "text": {"field": "label"}}}
      ],
      "resolve": {"axis": {"x": "independent", "y": "independent"}}
    },
    {
      "width": 364, "height": 282,
      "layer": [
        {
          "layer": [
            {"data": {"name": "pulse"}, "mark": {"type": "rect", "color": "#e3e3e3"},
             "encoding": {
               "x": {"field": "start", "type": "quantitative", "scale": {"domain": [2.21, 8.21], "nice": false, "zero": false}, "axis": {"orient": "top", "values": [3, 4, 5, 6, 7, 8], "labels": false, "title": null}},
               "x2": {"field": "end"},
               "y": {"datum": 0, "type": "quantitative", "scale": {"domain": [0, 17], "nice": false, "zero": false}, "axis": {"orient": "right", "values": [0, 2, 4, 6, 8, 10, 12, 14, 16], "labels": false, "title": null}},
               "y2": {"datum": 17}}},
            {"data": {"name": "top"}, "transform": [{"filter": "datum.shot == 39149"}],
             "mark": {"type": "area", "color": "#0072BD", "opacity": 0.2, "clip": true},
             "encoding": {
               "x": {"field": "t", "type": "quantitative", "scale": {"domain": [2.21, 8.21], "nice": false, "zero": false}, "axis": {"orient": "bottom", "values": [3, 4, 5, 6, 7, 8], "labels": false, "title": null}},
               "y": {"field": "lo", "type": "quantitative", "scale": {"domain": [0, 17], "nice": false, "zero": false}, "axis": {"orient": "left", "values": [0, 2, 4, 6, 8, 10, 12, 14, 16], "labels": false, "title": null}},
               "y2": {"field": "hi"}}},
            {"data": {"name": "top"}, "transform": [{"filter": "datum.shot == 39149"}],
             "mark": {"type": "line", "color": "#0072BD", "strokeWidth": 2, "clip": true},
             "encoding": {
               "x": {"field": "t", "type": "quantitative", "scale": {"domain": [2.21, 8.21], "nice": false, "zero": false}, "axis": null},
               "y": {"field": "m", "type": "quantitative", "scale": {"domain": [0, 17], "nice": false, "zero": false}, "axis": null}}}
          ],
          "resolve": {"axis": {"x": "independent", "y": "independent"}}
        },
        {"data": {"name": "bot"}, "transform": [{"filter": "datum.shot == 39149"}],
         "mark": {"type": "line", "color": "#77AC30", "strokeWidth": 2.5, "strokeDash": [3, 3], "clip": true},
         "encoding": {
           "x": {"field": "t", "type": "quantitative", "scale": {"domain": [2.21, 8.21], "nice": false, "zero": false}, "axis": null},
           "y": {"field": "n", "type": "quantitative", "scale": {"domain": [-0.063, 1.267], "nice": false, "zero": false}, "axis": null}}},
        {
          "layer": [
            {"data": {"values": [{"label": "39149 (intermediate p"}]}, "mark": {"type": "text", "align": "right", "baseline": "alphabetic", "dx": -28.7, "fontSize": 25, "color": "#D95319"},
             "encoding": {"x": {"datum": 8.03, "type": "quantitative", "axis": null}, "y": {"datum": 15.25, "type": "quantitative", "scale": {"domain": [0, 17], "nice": false, "zero": false}, "axis": null}, "text": {"field": "label"}}},
            {"data": {"values": [{"label": "div"}]}, "mark": {"type": "text", "align": "right", "baseline": "alphabetic", "dx": -8.3, "dy": 4, "fontSize": 16, "color": "#D95319"},
             "encoding": {"x": {"datum": 8.03, "type": "quantitative", "axis": null}, "y": {"datum": 15.25, "type": "quantitative", "axis": null}, "text": {"field": "label"}}},
            {"data": {"values": [{"label": ")"}]}, "mark": {"type": "text", "align": "right", "baseline": "alphabetic", "fontSize": 25, "color": "#D95319"},
             "encoding": {"x": {"datum": 8.03, "type": "quantitative", "axis": null}, "y": {"datum": 15.25, "type": "quantitative", "axis": null}, "text": {"field": "label"}}},
            {"data": {"values": [{"label": "Φ"}]}, "mark": {"type": "text", "align": "right", "baseline": "alphabetic", "dx": -165.7, "fontSize": 25, "color": "#D95319"},
             "encoding": {"x": {"datum": 8.03, "type": "quantitative", "axis": null}, "y": {"datum": 12.92, "type": "quantitative", "axis": null}, "text": {"field": "label"}}},
            {"data": {"values": [{"label": "He"}]}, "mark": {"type": "text", "align": "right", "baseline": "alphabetic", "dx": -145.3, "dy": 4, "fontSize": 16, "color": "#D95319"},
             "encoding": {"x": {"datum": 8.03, "type": "quantitative", "axis": null}, "y": {"datum": 12.92, "type": "quantitative", "axis": null}, "text": {"field": "label"}}},
            {"data": {"values": [{"label": "= 2.5e21 e/s"}]}, "mark": {"type": "text", "align": "right", "baseline": "alphabetic", "fontSize": 25, "color": "#D95319"},
             "encoding": {"x": {"datum": 8.03, "type": "quantitative", "axis": null}, "y": {"datum": 12.92, "type": "quantitative", "axis": null}, "text": {"field": "label"}}},
            {"data": {"values": [{"label": "n"}]}, "mark": {"type": "text", "align": "left", "baseline": "alphabetic", "fontSize": 18, "color": "#77AC30"},
             "encoding": {"x": {"datum": 5.39, "type": "quantitative", "axis": null}, "y": {"datum": 6.18, "type": "quantitative", "axis": null}, "text": {"field": "label"}}},
            {"data": {"values": [{"label": "He"}]}, "mark": {"type": "text", "align": "left", "baseline": "alphabetic", "dx": 10, "dy": 3, "fontSize": 12, "color": "#77AC30"},
             "encoding": {"x": {"datum": 5.39, "type": "quantitative", "axis": null}, "y": {"datum": 6.18, "type": "quantitative", "axis": null}, "text": {"field": "label"}}},
            {"data": {"values": [{"label": "0"}]}, "mark": {"type": "text", "align": "left", "baseline": "alphabetic", "dx": 25.5, "dy": -7, "fontSize": 12, "color": "#77AC30"},
             "encoding": {"x": {"datum": 5.39, "type": "quantitative", "axis": null}, "y": {"datum": 6.18, "type": "quantitative", "axis": null}, "text": {"field": "label"}}},
            {"data": {"values": [{"label": "(scaled)"}]}, "mark": {"type": "text", "align": "left", "baseline": "alphabetic", "dx": 37, "fontSize": 18, "color": "#77AC30"},
             "encoding": {"x": {"datum": 5.39, "type": "quantitative", "axis": null}, "y": {"datum": 6.18, "type": "quantitative", "axis": null}, "text": {"field": "label"}}}
          ]
        }
      ],
      "resolve": {"scale": {"y": "independent"}, "axis": {"x": "independent", "y": "independent"}}
    },
    {
      "width": 364, "height": 282,
      "layer": [
        {"data": {"name": "pulse"}, "mark": {"type": "rect", "color": "#e3e3e3"},
         "encoding": {
           "x": {"field": "start", "type": "quantitative", "scale": {"domain": [2.21, 8.21], "nice": false, "zero": false}, "axis": {"orient": "top", "values": [3, 4, 5, 6, 7, 8], "labels": false, "title": null}},
           "x2": {"field": "end"},
           "y": {"datum": 0, "type": "quantitative", "scale": {"domain": [0, 17], "nice": false, "zero": false}, "axis": {"orient": "right", "values": [0, 2, 4, 6, 8, 10, 12, 14, 16], "labels": false, "title": null}},
           "y2": {"datum": 17}}},
        {"data": {"name": "top"}, "transform": [{"filter": "datum.shot == 39150"}],
         "mark": {"type": "area", "color": "#0072BD", "opacity": 0.2, "clip": true},
         "encoding": {
           "x": {"field": "t", "type": "quantitative", "scale": {"domain": [2.21, 8.21], "nice": false, "zero": false}, "axis": {"orient": "bottom", "values": [3, 4, 5, 6, 7, 8], "labels": false, "title": null}},
           "y": {"field": "lo", "type": "quantitative", "scale": {"domain": [0, 17], "nice": false, "zero": false}, "axis": {"orient": "left", "values": [0, 2, 4, 6, 8, 10, 12, 14, 16], "labels": false, "title": null}},
           "y2": {"field": "hi"}}},
        {"data": {"name": "top"}, "transform": [{"filter": "datum.shot == 39150"}],
         "mark": {"type": "line", "color": "#0072BD", "strokeWidth": 2, "clip": true},
         "encoding": {
           "x": {"field": "t", "type": "quantitative", "scale": {"domain": [2.21, 8.21], "nice": false, "zero": false}, "axis": null},
           "y": {"field": "m", "type": "quantitative", "scale": {"domain": [0, 17], "nice": false, "zero": false}, "axis": null}}},
        {"data": {"values": [{"label": "39150 (low p"}]}, "mark": {"type": "text", "align": "right", "baseline": "alphabetic", "dx": -28.7, "fontSize": 25, "color": "#EDB120"},
         "encoding": {"x": {"datum": 8.03, "type": "quantitative", "axis": null}, "y": {"datum": 15.25, "type": "quantitative", "axis": null}, "text": {"field": "label"}}},
        {"data": {"values": [{"label": "div"}]}, "mark": {"type": "text", "align": "right", "baseline": "alphabetic", "dx": -8.3, "dy": 4, "fontSize": 16, "color": "#EDB120"},
         "encoding": {"x": {"datum": 8.03, "type": "quantitative", "axis": null}, "y": {"datum": 15.25, "type": "quantitative", "axis": null}, "text": {"field": "label"}}},
        {"data": {"values": [{"label": ")"}]}, "mark": {"type": "text", "align": "right", "baseline": "alphabetic", "fontSize": 25, "color": "#EDB120"},
         "encoding": {"x": {"datum": 8.03, "type": "quantitative", "axis": null}, "y": {"datum": 15.25, "type": "quantitative", "axis": null}, "text": {"field": "label"}}},
        {"data": {"values": [{"label": "Φ"}]}, "mark": {"type": "text", "align": "right", "baseline": "alphabetic", "dx": -165.7, "fontSize": 25, "color": "#EDB120"},
         "encoding": {"x": {"datum": 8.03, "type": "quantitative", "axis": null}, "y": {"datum": 12.92, "type": "quantitative", "axis": null}, "text": {"field": "label"}}},
        {"data": {"values": [{"label": "He"}]}, "mark": {"type": "text", "align": "right", "baseline": "alphabetic", "dx": -145.3, "dy": 4, "fontSize": 16, "color": "#EDB120"},
         "encoding": {"x": {"datum": 8.03, "type": "quantitative", "axis": null}, "y": {"datum": 12.92, "type": "quantitative", "axis": null}, "text": {"field": "label"}}},
        {"data": {"values": [{"label": "= 1.5e21 e/s"}]}, "mark": {"type": "text", "align": "right", "baseline": "alphabetic", "fontSize": 25, "color": "#EDB120"},
         "encoding": {"x": {"datum": 8.03, "type": "quantitative", "axis": null}, "y": {"datum": 12.92, "type": "quantitative", "axis": null}, "text": {"field": "label"}}}
      ],
      "resolve": {"axis": {"x": "independent", "y": "independent"}}
    },
    {
      "width": 364, "height": 282,
      "title": {"text": "×10¹⁹"},
      "layer": [
        {"data": {"name": "pulse"}, "mark": {"type": "rect", "color": "#e3e3e3"},
         "encoding": {
           "x": {"field": "start", "type": "quantitative", "scale": {"domain": [2.21, 8.21], "nice": false, "zero": false}, "axis": {"orient": "top", "values": [3, 4, 5, 6, 7, 8], "labels": false, "title": null}},
           "x2": {"field": "end"},
           "y": {"datum": 0, "type": "quantitative", "scale": {"domain": [0, 2], "nice": false, "zero": false}, "axis": {"orient": "right", "values": [0, 0.2, 0.4, 0.6, 0.8, 1, 1.2, 1.4, 1.6, 1.8, 2], "labels": false, "title": null}},
           "y2": {"datum": 2}}},
        {"data": {"name": "bot"}, "transform": [{"filter": "datum.shot == 39148"}],
         "mark": {"type": "line", "color": "#77AC30", "strokeWidth": 2.2, "clip": true},
         "encoding": {
           "x": {"field": "t", "type": "quantitative", "scale": {"domain": [2.21, 8.21], "nice": false, "zero": false},
                 "axis": {"orient": "bottom", "values": [3, 4, 5, 6, 7, 8], "format": "d", "title": "Time [s]", "titleBaseline": "alphabetic", "titleX": 182, "titleY": 57}},
           "y": {"field": "n", "type": "quantitative", "scale": {"domain": [0, 2], "nice": false, "zero": false},
                 "axis": {"orient": "left", "values": [0, 0.2, 0.4, 0.6, 0.8, 1, 1.2, 1.4, 1.6, 1.8, 2], "format": "~g", "title": "nₕₑ⁰ [m⁻³]", "titleAngle": 270, "titleAlign": "center", "titleBaseline": "alphabetic", "titleX": -45, "titleY": 146}}}}
      ],
      "resolve": {"axis": {"x": "independent", "y": "independent"}}
    },
    {
      "width": 364, "height": 282,
      "layer": [
        {"data": {"name": "pulse"}, "mark": {"type": "rect", "color": "#e3e3e3"},
         "encoding": {
           "x": {"field": "start", "type": "quantitative", "scale": {"domain": [2.21, 8.21], "nice": false, "zero": false}, "axis": {"orient": "top", "values": [3, 4, 5, 6, 7, 8], "labels": false, "title": null}},
           "x2": {"field": "end"},
           "y": {"datum": 0, "type": "quantitative", "scale": {"domain": [0, 2], "nice": false, "zero": false}, "axis": {"orient": "right", "values": [0, 0.2, 0.4, 0.6, 0.8, 1, 1.2, 1.4, 1.6, 1.8, 2], "labels": false, "title": null}},
           "y2": {"datum": 2}}},
        {"data": {"name": "bot"}, "transform": [{"filter": "datum.shot == 39149"}],
         "mark": {"type": "line", "color": "#77AC30", "strokeWidth": 2.2, "clip": true},
         "encoding": {
           "x": {"field": "t", "type": "quantitative", "scale": {"domain": [2.21, 8.21], "nice": false, "zero": false},
                 "axis": {"orient": "bottom", "values": [3, 4, 5, 6, 7, 8], "format": "d", "title": "Time [s]", "titleBaseline": "alphabetic", "titleX": 182, "titleY": 57}},
           "y": {"field": "n", "type": "quantitative", "scale": {"domain": [0, 2], "nice": false, "zero": false},
                 "axis": {"orient": "left", "values": [0, 0.2, 0.4, 0.6, 0.8, 1, 1.2, 1.4, 1.6, 1.8, 2], "labels": false, "title": null}}}}
      ],
      "resolve": {"axis": {"x": "independent", "y": "independent"}}
    },
    {
      "width": 364, "height": 282,
      "layer": [
        {"data": {"name": "pulse"}, "mark": {"type": "rect", "color": "#e3e3e3"},
         "encoding": {
           "x": {"field": "start", "type": "quantitative", "scale": {"domain": [2.21, 8.21], "nice": false, "zero": false}, "axis": {"orient": "top", "values": [3, 4, 5, 6, 7, 8], "labels": false, "title": null}},
           "x2": {"field": "end"},
           "y": {"datum": 0, "type": "quantitative", "scale": {"domain": [0, 2], "nice": false, "zero": false}, "axis": {"orient": "right", "values": [0, 0.2, 0.4, 0.6, 0.8, 1, 1.2, 1.4, 1.6, 1.8, 2], "labels": false, "title": null}},
           "y2": {"datum": 2}}},
        {"data": {"name": "bot"}, "transform": [{"filter": "datum.shot == 39150"}],
         "mark": {"type": "line", "color": "#77AC30", "strokeWidth": 2.2, "clip": true},
         "encoding": {
           "x": {"field": "t", "type": "quantitative", "scale": {"domain": [2.21, 8.21], "nice": false, "zero": false},
                 "axis": {"orient": "bottom", "values": [3, 4, 5, 6, 7, 8], "format": "d", "title": "Time [s]", "titleBaseline": "alphabetic", "titleX": 182, "titleY": 57}},
           "y": {"field": "n", "type": "quantitative", "scale": {"domain": [0, 2], "nice": false, "zero": false},
                 "axis": {"orient": "left", "values": [0, 0.2, 0.4, 0.6, 0.8, 1, 1.2, 1.4, 1.6, 1.8, 2], "labels": false, "title": null}}}}
      ],
      "resolve": {"axis": {"x": "independent", "y": "independent"}}
    }
  ],
  "config": {
    "view": {"stroke": null},
    "axis": {
      "domainColor": "#262626", "domainWidth": 1, "tickColor": "#262626", "tickWidth": 1, "tickSize": -4.5,
      "labelColor": "#262626", "labelFont": "Liberation Serif", "labelFontSize": 19, "labelPadding": 8,
      "titleColor": "#262626", "titleFont": "Liberation Serif", "titleFontSize": 26, "titleFontWeight": "normal",
      "grid": false, "zindex": 1
    },
    "title": {"font": "Liberation Serif", "fontSize": 19, "fontWeight": "normal", "color": "#262626", "anchor": "start", "frame": "group", "offset": 3, "baseline": "alphabetic"},
    "text": {"font": "Liberation Sans"}
  }
}
